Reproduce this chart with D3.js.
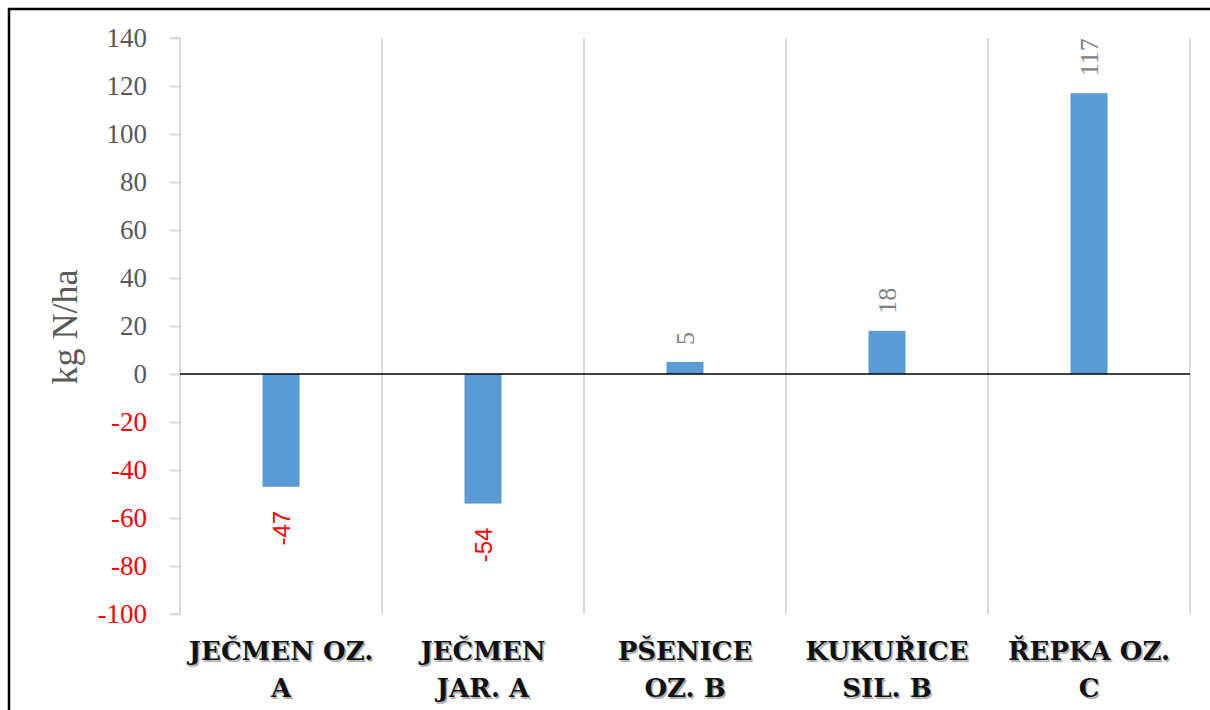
<!DOCTYPE html>
<html>
<head>
<meta charset="utf-8">
<script src="https://cdn.jsdelivr.net/npm/d3@7"></script>
<style>
  body { margin: 0; background: #fff; }
  svg { display: block; }
</style>
</head>
<body>
<svg id="canvas"></svg>
<script>
// chart data
let categories = ['JEČMEN OZ. A', 'JEČMEN JAR. A', 'PŠENICE OZ. B', 'KUKUŘICE SIL. B', 'ŘEPKA OZ. C'];
let labelLines = [['JEČMEN OZ.', 'A'], ['JEČMEN', 'JAR. A'], ['PŠENICE', 'OZ. B'], ['KUKUŘICE', 'SIL. B'], ['ŘEPKA OZ.', 'C']];
let values = [-47, -54, 5, 18, 117];
let yTicks = [140, 120, 100, 80, 60, 40, 20, 0, -20, -40, -60, -80, -100];
let yTitle = 'kg N/ha';

let width = 1210;
let height = 710;

let plotLeft = 180;
let plotRight = 1190;
let plotTop = 38;
let plotBottom = 614;

let canvas = d3.select('#canvas');
canvas.attr('width', width);
canvas.attr('height', height);

let xScale = d3.scaleBand()
    .domain(categories)
    .range([plotLeft, plotRight])
    .padding(0);

let yScale = d3.scaleLinear()
    .domain([-100, 140])
    .range([plotBottom, plotTop]);

// frame of the figure
canvas.append('rect')
    .attr('x', 9)
    .attr('y', 9)
    .attr('width', width)
    .attr('height', height)
    .attr('fill', 'none')
    .attr('stroke', '#000')
    .attr('stroke-width', 2.5);

// vertical separators between categories
canvas.append('g')
    .selectAll('line')
    .data(categories)
    .enter()
    .append('line')
    .attr('x1', (d) => xScale(d) + xScale.bandwidth())
    .attr('x2', (d) => xScale(d) + xScale.bandwidth())
    .attr('y1', plotTop)
    .attr('y2', plotBottom)
    .attr('stroke', '#d9d9d9')
    .attr('stroke-width', 2);

// y axis (plain hyphen for negatives)
let yAxis = d3.axisLeft(yScale)
    .tickValues(yTicks)
    .tickSize(10)
    .tickPadding(23)
    .tickFormat((d) => String(d));

let yG = canvas.append('g')
    .attr('transform', 'translate(' + plotLeft + ', 0)')
    .call(yAxis);

yG.select('.domain')
    .attr('d', 'M-10,' + plotTop + 'H0V' + plotBottom + 'H-10')
    .attr('stroke', '#d9d9d9')
    .attr('stroke-width', 2);
yG.selectAll('.tick line')
    .attr('stroke', '#d9d9d9')
    .attr('stroke-width', 2);
yG.selectAll('.tick text')
    .attr('font-family', '"Liberation Serif", "Times New Roman", serif')
    .attr('font-size', 27)
    .attr('fill', (d) => d < 0 ? '#ff0000' : '#595959');

// axis title
canvas.append('text')
    .attr('transform', 'translate(77, 327) rotate(-90)')
    .attr('text-anchor', 'middle')
    .attr('font-family', '"Liberation Serif", "Times New Roman", serif')
    .attr('font-size', 36)
    .attr('fill', '#595959')
    .text(yTitle);

// bars
let barWidth = xScale.bandwidth() * 0.183;
canvas.append('g')
    .selectAll('rect')
    .data(values)
    .enter()
    .append('rect')
    .attr('x', (d, i) => xScale(categories[i]) + xScale.bandwidth() / 2 - barWidth / 2)
    .attr('y', (d) => yScale(Math.max(0, d)))
    .attr('width', barWidth)
    .attr('height', (d) => Math.abs(yScale(d) - yScale(0)))
    .attr('fill', '#5b9bd5');

// zero line
canvas.append('line')
    .attr('x1', plotLeft)
    .attr('x2', plotRight)
    .attr('y1', yScale(0))
    .attr('y2', yScale(0))
    .attr('stroke', '#000')
    .attr('stroke-width', 1.5);

// data labels, rotated
canvas.append('g')
    .selectAll('text')
    .data(values)
    .enter()
    .append('text')
    .attr('transform', (d, i) => {
        let cx = xScale(categories[i]) + xScale.bandwidth() / 2;
        let y = d >= 0 ? yScale(d) - 17 : yScale(d) + 24;
        return 'translate(' + cx + ', ' + y + ') rotate(-90)';
    })
    .attr('text-anchor', (d) => d >= 0 ? 'start' : 'end')
    .attr('dominant-baseline', 'central')
    .attr('font-family', (d) => d >= 0 ? '"Liberation Serif", "Times New Roman", serif' : '"Liberation Sans", Arial, sans-serif')
    .attr('font-size', (d) => d >= 0 ? 26 : 24)
    .attr('fill', (d) => d >= 0 ? '#7f7f7f' : '#ff0000')
    .text((d) => d);

// category labels with a little shadow
let catG = canvas.append('g');
labelLines.forEach((lines, i) => {
    let cx = xScale(categories[i]) + xScale.bandwidth() / 2;
    lines.forEach((line, j) => {
        [['#b0b0b0', 1.5], ['#111', 0]].forEach(([col, off]) => {
            catG.append('text')
                .attr('x', cx + off)
                .attr('y', 660 + j * 37 + off)
                .attr('text-anchor', 'middle')
                .attr('font-family', '"DejaVu Serif", serif')
                .attr('font-weight', 'bold')
                .attr('font-size', 26)
                .attr('fill', col)
                .text(line);
        });
    });
});
</script>
</body>
</html>
